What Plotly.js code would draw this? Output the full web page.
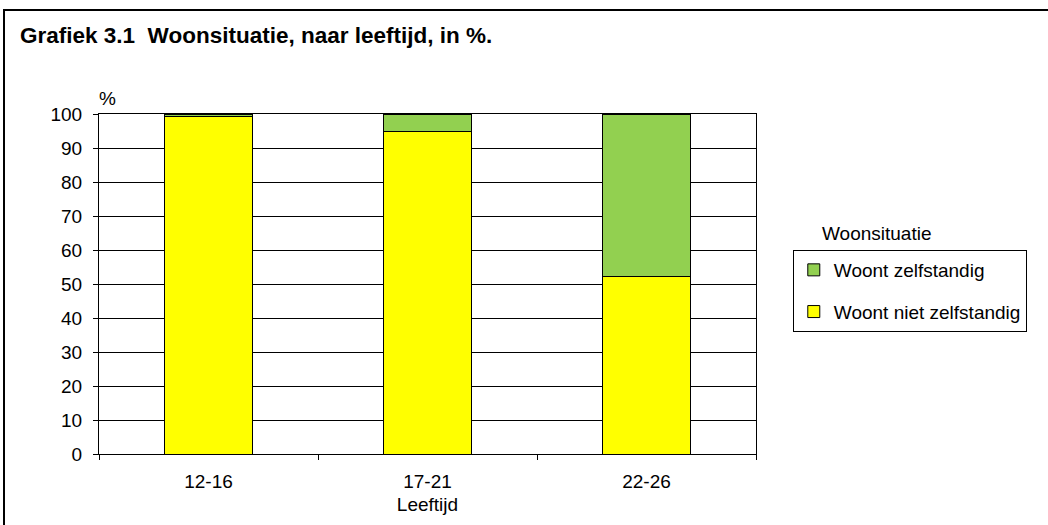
<!DOCTYPE html>
<html>
<head>
<meta charset="utf-8">
<script src="https://cdn.plot.ly/plotly-3.0.1.min.js"></script>
<style>
body{margin:0;padding:0;overflow:hidden;background:#fff;}
#frame{position:absolute;left:3px;top:9px;width:1100px;height:600px;border-top:2px solid #000;border-left:2px solid #000;}
#chart{position:absolute;left:0;top:0;width:1048px;height:525px;}
</style>
</head>
<body>
<div id="frame"></div>
<div id="chart"></div>
<script>
const categories = ["12-16", "17-21", "22-26"];
const nietZelfstandig = [99.4, 94.9, 52.3];
const zelfstandig = [0.6, 5.1, 47.7];
const seriesNames = ["Woont niet zelfstandig", "Woont zelfstandig"];
const yTicks = [0, 10, 20, 30, 40, 50, 60, 70, 80, 90, 100];

const font = "Arial, 'Liberation Sans', sans-serif";
const fs = 19;

const traces = [
  {type: "bar", x: categories, y: nietZelfstandig, name: seriesNames[0], legendgroup: "a", legendrank: 2,
   width: 0.4, marker: {color: "#FFFF00", line: {color: "#000", width: 1}}},
  {type: "bar", x: categories, y: zelfstandig, name: seriesNames[1], legendgroup: "b", legendrank: 1,
   width: 0.4, marker: {color: "#92D050", line: {color: "#000", width: 1}}}
];

const layout = {
  width: 1048, height: 525,
  paper_bgcolor: "rgba(0,0,0,0)", plot_bgcolor: "#fff",
  barmode: "stack",
  margin: {l: 99, r: 292, t: 114, b: 71},
  font: {family: font, size: fs, color: "#000"},
  showlegend: true,
  legend: {
    x: 1.056, y: 0.6, xanchor: "left", yanchor: "top",
    bordercolor: "#000", borderwidth: 1, bgcolor: "#fff",
    traceorder: "grouped", tracegroupgap: 14,
    font: {family: font, size: fs, color: "#000"},
    itemwidth: 30
  },
  title: {
    text: "<b>Grafiek 3.1  Woonsituatie, naar leeftijd, in %.</b>",
    xref: "container", yref: "container", x: 20/1048, xanchor: "left",
    y: 1 - 35/525, yanchor: "middle",
    font: {family: font, size: 22.5, color: "#000"}
  },
  xaxis: {
    type: "category",
    showline: true, linecolor: "#000", linewidth: 1, mirror: true,
    ticks: "outside", tickson: "boundaries", ticklen: 5, tickcolor: "#000",
    ticklabelstandoff: 10,
    showgrid: false,
    tickfont: {family: font, size: fs},
    title: {text: "Leeftijd", font: {family: font, size: fs}, standoff: 6}
  },
  yaxis: {
    range: [0, 100], tickvals: yTicks,
    showline: true, linecolor: "#000", linewidth: 1, mirror: true,
    ticks: "outside", ticklen: 5, tickcolor: "#000",
    ticklabelstandoff: 7,
    showgrid: true, gridcolor: "#000", gridwidth: 1,
    zeroline: false,
    tickfont: {family: font, size: fs}
  },
  annotations: [
    {text: "%", xref: "paper", yref: "paper", x: 0.013, y: 1.047, showarrow: false,
     xanchor: "center", yanchor: "middle", font: {family: font, size: fs}},
    {text: "Woonsituatie", xref: "paper", yref: "paper", x: 1.184, y: 0.65, showarrow: false,
     xanchor: "center", yanchor: "middle", font: {family: font, size: fs}}
  ]
};

Plotly.newPlot("chart", traces, layout, {staticPlot: true, displayModeBar: false});
</script>
</body>
</html>
